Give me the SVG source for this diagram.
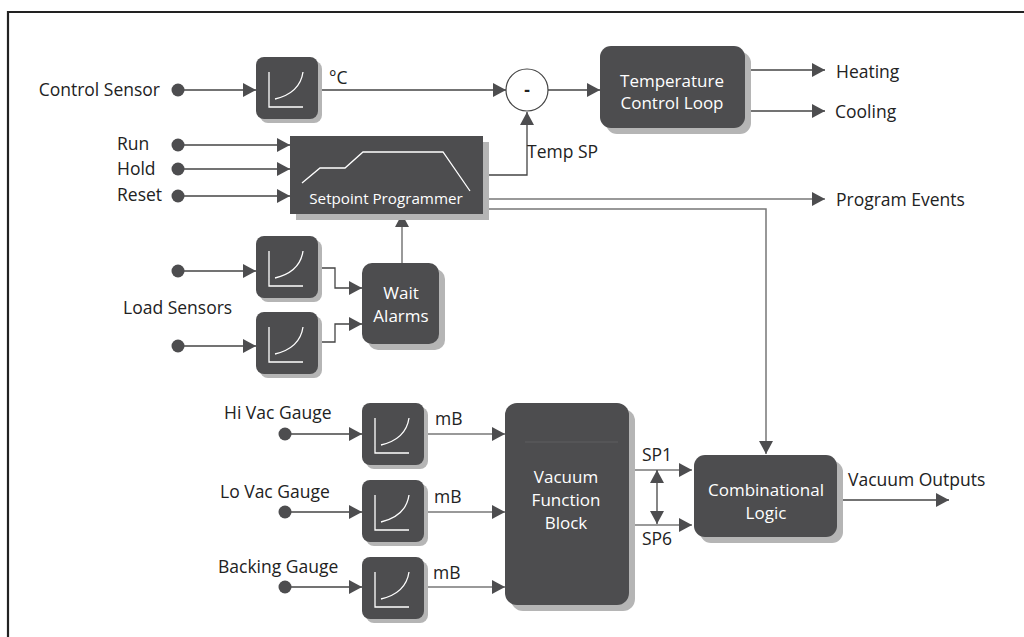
<svg xmlns="http://www.w3.org/2000/svg" width="1024" height="637" viewBox="0 0 1024 637">
<style>
text{font-family:"Open Sans","Noto Sans","Liberation Sans",sans-serif;font-size:17.5px;fill:#222}
.w{fill:#fff;text-anchor:middle;font-size:17px}
.box{fill:#4d4d4f}
.sh{fill:#b5b5b5}
.ln{fill:none;stroke:#444;stroke-width:1.3}
.lg{fill:none;stroke:#777;stroke-width:1.5}
.dot{fill:#4d4d4f}
.ic{fill:none;stroke:#fff;stroke-width:1.3}
.r{text-anchor:end}
</style>
<defs>
<marker id="a" markerUnits="userSpaceOnUse" markerWidth="13" markerHeight="14" refX="13" refY="7" orient="auto" viewBox="0 0 13 14"><path d="M0,0 L13,7 L0,14 z" fill="#4d4d4f"/></marker>
<g id="sensor">
<rect x="4" y="4" width="62" height="62" rx="8" class="sh"/>
<rect x="0" y="0" width="62" height="62" rx="8" class="box"/>
<path class="ic" d="M13,15 V50 H47 M19,42 Q44,36 47,15"/>
</g>
</defs>
<rect width="1024" height="637" fill="#fff"/>
<path d="M8,637 V12 H1024" fill="none" stroke="#222" stroke-width="2.2"/>

<g id="connectors">
<path class="ln" d="M184,90 H256" marker-end="url(#a)"/>
<path class="ln" d="M312,90 H506" marker-end="url(#a)"/>
<path class="ln" d="M548,90 H600" marker-end="url(#a)"/>
<path class="ln" d="M745,70 H825" marker-end="url(#a)"/>
<path class="ln" d="M745,111 H825" marker-end="url(#a)"/>
<path class="ln" d="M184,145 H290" marker-end="url(#a)"/>
<path class="ln" d="M184,169 H290" marker-end="url(#a)"/>
<path class="ln" d="M184,196 H290" marker-end="url(#a)"/>
<path class="ln" d="M483,175 H527 V112" marker-end="url(#a)"/>
<path class="lg" d="M483,199 H825" marker-end="url(#a)"/>
<path class="lg" d="M483,209 H766 V454" marker-end="url(#a)"/>
<path class="lg" d="M402,263 V214" marker-end="url(#a)"/>
<path class="ln" d="M184,271 H256" marker-end="url(#a)"/>
<path class="ln" d="M184,346 H256" marker-end="url(#a)"/>
<path class="ln" d="M318,268 H335 V288 H362" marker-end="url(#a)"/>
<path class="ln" d="M318,342 H335 V324 H362" marker-end="url(#a)"/>
<path class="ln" d="M290,434 H362" marker-end="url(#a)"/>
<path class="ln" d="M290,512 H362" marker-end="url(#a)"/>
<path class="ln" d="M290,587 H362" marker-end="url(#a)"/>
<path class="lg" d="M424,434 H505" marker-end="url(#a)"/>
<path class="lg" d="M424,512 H505" marker-end="url(#a)"/>
<path class="lg" d="M424,587 H505" marker-end="url(#a)"/>
<path class="lg" d="M610,470 H692" marker-end="url(#a)"/>
<path class="lg" d="M613,525 H692" marker-end="url(#a)"/>
<path class="ln" d="M657,497 V470" marker-end="url(#a)"/>
<path class="ln" d="M657,497 V524" marker-end="url(#a)"/>
<path class="ln" d="M837,500 H949" marker-end="url(#a)"/>
</g>

<g id="control-sensor">
<text class="r" x="160" y="96">Control Sensor</text>
<circle class="dot" cx="178" cy="90" r="6.5"/>
</g>
<g id="sensor-temp"><use href="#sensor" x="256" y="57"/><text x="329" y="84">°C</text></g>

<g id="subtract">
<circle cx="527" cy="90" r="21" fill="#fff" stroke="#444" stroke-width="1.2"/>
<text x="527" y="96" text-anchor="middle" font-weight="bold">-</text>
</g>

<g id="temp-loop">
<rect x="606" y="52" width="145" height="82" rx="11" class="sh"/>
<rect x="600" y="46" width="145" height="82" rx="11" class="box"/>
<text class="w" x="672" y="87">Temperature</text>
<text class="w" x="672" y="109">Control Loop</text>
</g>
<g id="heating"><text x="836" y="78">Heating</text></g>
<g id="cooling"><text x="835" y="118">Cooling</text></g>

<g id="inputs">
<text x="117" y="150">Run</text>
<text x="117" y="175">Hold</text>
<text x="117" y="201">Reset</text>
<circle class="dot" cx="178" cy="145" r="6.5"/>
<circle class="dot" cx="178" cy="169" r="6.5"/>
<circle class="dot" cx="178" cy="196" r="6.5"/>
</g>

<g id="programmer">
<rect x="296" y="142" width="193" height="78" class="sh"/>
<rect x="290" y="136" width="193" height="78" class="box"/>
<polyline class="ic" points="302,183 320,168 345,168 363,152 443,152 470,191"/>
<text class="w" x="386" y="204" style="font-size:15.2px">Setpoint Programmer</text>
</g>
<g id="temp-sp"><text x="527" y="158">Temp SP</text></g>
<g id="program-events"><text x="836" y="206">Program Events</text></g>

<g id="load-sensors">
<text x="123" y="314">Load Sensors</text>
<circle class="dot" cx="178" cy="271" r="6.5"/>
<circle class="dot" cx="178" cy="346" r="6.5"/>
</g>
<g id="sensor-load1"><use href="#sensor" x="256" y="236"/></g>
<g id="sensor-load2"><use href="#sensor" x="256" y="312"/></g>

<g id="wait-alarms">
<rect x="368" y="269" width="77" height="81" rx="10" class="sh"/>
<rect x="362" y="263" width="77" height="81" rx="10" class="box"/>
<text class="w" x="401" y="299">Wait</text>
<text class="w" x="401" y="322">Alarms</text>
</g>

<g id="hi-vac">
<text x="224" y="419">Hi Vac Gauge</text>
<circle class="dot" cx="285" cy="434" r="6.5"/>
<use href="#sensor" x="362" y="403"/>
<text x="435" y="425">mB</text>
</g>
<g id="lo-vac">
<text x="220" y="498">Lo Vac Gauge</text>
<circle class="dot" cx="285" cy="512" r="6.5"/>
<use href="#sensor" x="362" y="480"/>
<text x="434" y="503">mB</text>
</g>
<g id="backing">
<text x="218" y="573">Backing Gauge</text>
<circle class="dot" cx="285" cy="587" r="6.5"/>
<use href="#sensor" x="362" y="557"/>
<text x="433" y="579">mB</text>
</g>

<g id="vacuum-block">
<rect x="511" y="409" width="124" height="202" rx="12" class="sh"/>
<rect x="505" y="403" width="124" height="202" rx="12" class="box"/>
<line x1="525" y1="442" x2="618" y2="442" stroke="#5e5e60" stroke-width="1"/>
<text class="w" x="566" y="483">Vacuum</text>
<text class="w" x="566" y="506">Function</text>
<text class="w" x="566" y="529">Block</text>
</g>
<g id="sp-labels">
<text x="642" y="461">SP1</text>
<text x="642" y="545">SP6</text>
</g>

<g id="comb-logic">
<rect x="700" y="461" width="143" height="82" rx="11" class="sh"/>
<rect x="694" y="455" width="143" height="82" rx="11" class="box"/>
<text class="w" x="766" y="496">Combinational</text>
<text class="w" x="766" y="519">Logic</text>
</g>
<g id="vacuum-outputs"><text x="848" y="486">Vacuum Outputs</text></g>
</svg>
